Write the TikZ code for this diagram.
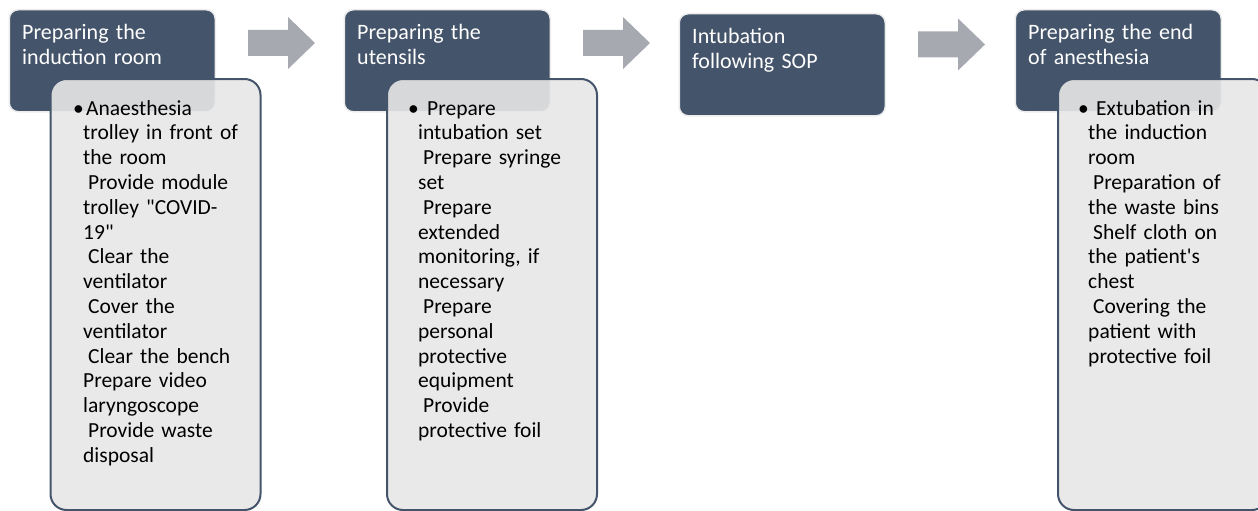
\documentclass[tikz,border=0pt]{standalone}
\usepackage{fontspec}
\setmainfont{Carlito}
\usetikzlibrary{positioning}
\definecolor{slate}{HTML}{44546A}
\definecolor{panel}{HTML}{E7E7E7}
\definecolor{arrowgray}{HTML}{A6A9B0}
\newcommand{\lpad}{\hspace*{0.23em}}
\newcommand{\bul}[1]{\hspace*{-10pt}\makebox[#1][l]{\textbullet}}
\begin{document}
\begin{tikzpicture}[x=1pt,y=-1pt,
  head/.style={fill=slate,draw=gray!15,line width=1.5pt,rounded corners=9pt,anchor=north west,minimum width=206pt,minimum height=102pt},
  panelbox/.style={fill=panel,fill opacity=0.9,draw=slate,line width=2pt,rounded corners=16pt,anchor=north west,minimum width=210pt,minimum height=431pt},
  title/.style={anchor=base west,inner sep=0pt,text=white,text width=195pt,align=left,font=\fontsize{22}{25}\selectfont},
  items/.style={anchor=base west,inner sep=0pt,text=black,text width=185pt,align=left,font=\fontsize{21.5}{24.8}\selectfont},
  blockarrow/.style={fill=arrowgray}]
\useasboundingbox (0,0) rectangle (1258,511);
\clip (0,0) rectangle (1258,511);
% steps
\node[head] (h1) at (8.5,9) {};
\node[head] (h2) at (343.5,9) {};
\node[head] (h3) at (678.5,13) {};
\node[head] (h4) at (1014.5,9) {};
% arrows between steps
\foreach \x/\y in {248/43,583/43,918/44.5}
  \fill[blockarrow] (\x,\y-13) -- ++(40,0) -- ++(0,-13) -- (\x+67,\y) -- (\x+40,\y+26) -- ++(0,-13) -- (\x,\y+13) -- cycle;
% detail panels
\node[panelbox] (p1) at (49.5,78) {};
\node[panelbox] (p2) at (386,78) {};
\node[panelbox] (p4) at (1057,78) {};
% titles
\node[title] (t1) at (22,40) {Preparing the\\induction room};
\node[title] (t2) at (357,40) {Preparing the\\utensils};
\node[title] (t3) at (692,44) {Intubation\\following SOP};
\node[title] (t4) at (1028,40) {Preparing the end\\of anesthesia};
% lists
\node[items] (l1) at (83,115) {\bul{13pt}Anaesthesia\\
trolley in front of\\
the room\\
\lpad Provide module\\
trolley \textquotedbl COVID-\\
19\textquotedbl\\
\lpad Clear the\\
ventilator\\
\lpad Cover the\\
ventilator\\
\lpad Clear the bench\\
Prepare video\\
laryngoscope\\
\lpad Provide waste\\
disposal};
\node[items] (l2) at (418,115) {\bul{19pt}Prepare\\
intubation set\\
\lpad Prepare syringe\\
set\\
\lpad Prepare\\
extended\\
monitoring, if\\
necessary\\
\lpad Prepare\\
personal\\
protective\\
equipment\\
\lpad Provide\\
protective foil};
\node[items] (l4) at (1088,115) {\bul{18pt}Extubation in\\
the induction\\
room\\
\lpad Preparation of\\
the waste bins\\
\lpad Shelf cloth on\\
the patient\textquotesingle s\\
chest\\
\lpad Covering the\\
patient with\\
protective foil};
\end{tikzpicture}
\end{document}
